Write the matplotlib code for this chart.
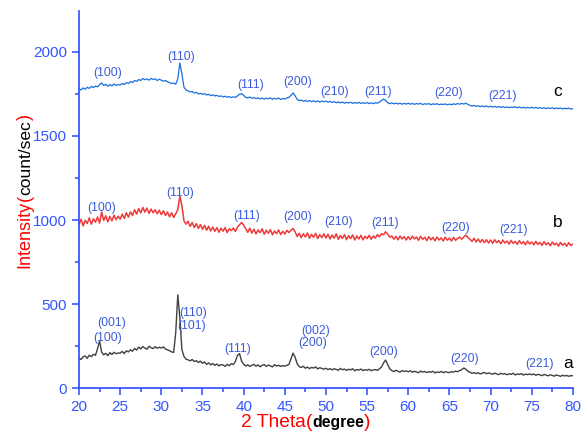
import numpy as np
import matplotlib
matplotlib.use("Agg")
import matplotlib.pyplot as plt

plt.rcParams['font.family'] = ['Liberation Sans', 'DejaVu Sans']

# 2 theta grid, 0.25 degree steps
two_theta = np.linspace(20, 80, 241)

# sample a (grey)
int_a = np.array(
    [178, 170, 186, 191, 177, 196, 187, 201, 195, 235, 280, 214, 198, 207, 193, 211, 200, 213, 204, 209] +
    [208, 218, 205, 222, 215, 228, 219, 236, 226, 244, 233, 247, 238, 231, 249, 240, 235, 246, 237, 243] +
    [238, 245, 232, 228, 222, 215, 212, 330, 555, 420, 230, 188, 172, 168, 162, 170, 158, 163, 152, 160] +
    [148, 155, 141, 150, 138, 146, 135, 143, 132, 140, 137, 129, 141, 133, 145, 140, 158, 195, 205, 160] +
    [142, 131, 139, 128, 136, 141, 130, 138, 127, 135, 140, 129, 137, 132, 126, 139, 131, 136, 128, 134] +
    [130, 136, 140, 175, 208, 185, 145, 128, 122, 130, 118, 125, 116, 123, 119, 126, 114, 121, 117, 112] +
    [118, 110, 116, 108, 115, 111, 106, 117, 109, 113, 105, 112, 108, 115, 103, 110, 107, 113, 104, 109] +
    [106, 112, 103, 108, 110, 105, 115, 125, 150, 167, 140, 115, 104, 98, 106, 100, 95, 104, 99, 102] +
    [97, 103, 94, 100, 96, 91, 101, 95, 99, 92, 98, 94, 100, 90, 96, 93, 99, 91, 97, 94] +
    [92, 98, 95, 101, 97, 104, 110, 119, 112, 100, 94, 88, 92, 86, 91, 84, 89, 93, 85, 90] +
    [87, 82, 89, 84, 80, 88, 83, 86, 79, 85, 82, 88, 78, 84, 81, 86, 77, 83, 80, 84] +
    [79, 84, 76, 82, 78, 74, 81, 77, 73, 79, 75, 71, 78, 74, 70, 76, 72, 75, 70, 74, 73])

# sample b (red)
int_b = np.array(
    [972, 1005, 965, 998, 979, 1013, 975, 1007, 987, 1018, 982, 1048, 997, 1025, 989, 1021, 995, 1029, 1002, 1023] +
    [1005, 1035, 1009, 1043, 1017, 1048, 1027, 1061, 1035, 1068, 1042, 1075, 1047, 1071, 1039, 1065, 1043, 1061, 1037, 1058] +
    [1032, 1055, 1027, 1048, 1019, 1043, 1015, 1038, 1060, 1143, 1085, 995, 975, 993, 962, 985, 955, 978, 949, 973] +
    [945, 968, 939, 963, 935, 958, 932, 955, 927, 951, 933, 955, 925, 948, 937, 953, 932, 958, 972, 985] +
    [970, 948, 927, 951, 922, 945, 917, 941, 925, 948, 915, 939, 921, 943, 912, 935, 919, 941, 913, 933] +
    [917, 938, 925, 940, 950, 930, 902, 921, 895, 918, 899, 923, 892, 915, 897, 921, 890, 913, 895, 918] +
    [893, 915, 887, 911, 892, 918, 885, 908, 890, 913, 883, 907, 889, 911, 881, 905, 887, 909, 882, 903] +
    [889, 909, 885, 905, 892, 913, 900, 918, 912, 930, 915, 898, 905, 885, 903, 882, 905, 887, 901, 881] +
    [901, 883, 905, 887, 899, 879, 903, 885, 897, 877, 901, 882, 896, 876, 899, 881, 894, 875, 898, 880] +
    [893, 875, 897, 879, 891, 898, 886, 900, 910, 895, 885, 873, 891, 869, 887, 867, 885, 865, 883, 863] +
    [881, 861, 883, 865, 878, 859, 881, 863, 875, 857, 879, 861, 873, 855, 877, 859, 871, 853, 875, 857] +
    [869, 852, 873, 855, 867, 849, 871, 853, 865, 847, 869, 852, 863, 845, 867, 850, 861, 844, 865, 848, 857])

# sample c (blue)
int_c = np.array(
    [1780, 1774, 1786, 1778, 1790, 1783, 1795, 1788, 1798, 1792, 1805, 1816, 1800, 1808, 1796, 1806, 1798, 1810, 1800, 1806] +
    [1804, 1812, 1806, 1818, 1812, 1824, 1818, 1830, 1825, 1836, 1830, 1842, 1835, 1840, 1832, 1843, 1836, 1840, 1830, 1838] +
    [1832, 1826, 1830, 1822, 1818, 1812, 1815, 1808, 1840, 1934, 1870, 1790, 1774, 1768, 1762, 1765, 1755, 1760, 1750, 1754] +
    [1748, 1752, 1744, 1748, 1740, 1745, 1738, 1742, 1735, 1739, 1732, 1737, 1730, 1735, 1728, 1733, 1730, 1738, 1748, 1752] +
    [1742, 1730, 1726, 1732, 1724, 1729, 1722, 1728, 1720, 1726, 1719, 1725, 1721, 1727, 1718, 1724, 1720, 1726, 1717, 1723] +
    [1720, 1726, 1730, 1742, 1756, 1740, 1718, 1710, 1714, 1706, 1712, 1705, 1711, 1704, 1710, 1703, 1709, 1702, 1708, 1704] +
    [1708, 1701, 1706, 1699, 1704, 1698, 1703, 1697, 1702, 1695, 1700, 1696, 1701, 1694, 1699, 1695, 1700, 1693, 1698, 1694] +
    [1699, 1693, 1697, 1692, 1698, 1695, 1702, 1710, 1720, 1712, 1698, 1692, 1697, 1691, 1696, 1690, 1695, 1689, 1694, 1690] +
    [1695, 1689, 1694, 1688, 1693, 1690, 1694, 1687, 1692, 1689, 1693, 1686, 1691, 1688, 1692, 1686, 1690, 1687, 1691, 1685] +
    [1690, 1686, 1691, 1688, 1693, 1689, 1694, 1690, 1695, 1688, 1682, 1678, 1682, 1676, 1680, 1675, 1679, 1674, 1678, 1673] +
    [1677, 1672, 1676, 1671, 1675, 1670, 1674, 1669, 1673, 1668, 1672, 1670, 1674, 1668, 1672, 1667, 1671, 1666, 1670, 1667] +
    [1671, 1666, 1670, 1665, 1669, 1664, 1668, 1663, 1667, 1664, 1668, 1662, 1666, 1663, 1667, 1661, 1665, 1662, 1666, 1660, 1663])

assert len(int_a) == len(int_b) == len(int_c) == len(two_theta)

# peak labels (text, 2theta, intensity)
labels_a = [("(001)", 24.0, 387), ("(100)", 23.5, 298), ("(110)", 33.9, 446), ("(101)", 33.7, 369),
            ("(111)", 39.3, 232), ("(002)", 48.7, 339), ("(200)", 48.4, 268), ("(200)", 57.0, 214),
            ("(220)", 66.9, 173), ("(221)", 75.9, 143)]
labels_b = [("(100)", 22.8, 1071), ("(110)", 32.3, 1161), ("(111)", 40.4, 1024), ("(200)", 46.6, 1018),
            ("(210)", 51.5, 988), ("(211)", 57.2, 982), ("(220)", 65.7, 952), ("(221)", 72.8, 940)]
labels_c = [("(100)", 23.5, 1875), ("(110)", 32.4, 1970), ("(111)", 40.8, 1806), ("(200)", 46.5, 1821),
            ("(210)", 51.1, 1762), ("(211)", 56.3, 1762), ("(220)", 64.9, 1756), ("(221)", 71.5, 1738)]
sample_names = [("a", 79.4, 149), ("b", 78.2, 988), ("c", 78.1, 1762)]

axis_blue = "#2b4cff"
tick_blue = "#3355ff"
label_blue = "#3b5bdb"

fig = plt.figure(figsize=(5.81, 4.38), dpi=100)
ax = fig.add_axes([0.136, 0.114, 0.850, 0.861])

ax.plot(two_theta, int_a, color="#404040", lw=1.0)
ax.plot(two_theta, int_b, color="#ee3a3a", lw=1.1)
ax.plot(two_theta, int_c, color="#1a6fdf", lw=0.9)

for lab in (labels_a, labels_b, labels_c):
    for txt, xx, yy in lab:
        ax.text(xx, yy, txt, color=label_blue, fontsize=8.8, ha="center", va="center")
for txt, xx, yy in sample_names:
    ax.text(xx, yy, txt, color="black", fontsize=12.5, ha="center", va="center")

ax.set_xlim(20, 80)
ax.set_ylim(0, 2244)
ax.set_xticks(np.arange(20, 81, 5))
ax.set_xticks(np.arange(22.5, 80, 5), minor=True)
ax.set_yticks([0, 500, 1000, 1500, 2000])
ax.set_yticks([250, 750, 1250, 1750], minor=True)
for s in ["top", "right"]:
    ax.spines[s].set_visible(False)
for s in ["left", "bottom"]:
    ax.spines[s].set_color(axis_blue)
    ax.spines[s].set_linewidth(1.2)
ax.tick_params(which="both", direction="out", color=axis_blue, width=1.1, labelcolor=tick_blue, labelsize=11)
ax.tick_params(which="major", length=5)
ax.tick_params(which="minor", length=3)

# multi coloured axis labels
fig.canvas.draw()
r = fig.canvas.get_renderer()
inv = fig.transFigure.inverted()

xparts = [("2 Theta", "red", 13.8, "normal"), ("(", "red", 13.8, "normal"),
          ("degree", "black", 11.4, "bold"), (")", "red", 13.8, "normal")]
pos = 0.0
items = []
for txt, col, fs, fw in xparts:
    t = fig.text(pos, 0.025, txt, color=col, fontsize=fs, fontweight=fw, ha="left", va="baseline")
    bb = t.get_window_extent(r)
    items.append(t)
    pos = inv.transform((bb.x1, 0))[0]
x_center = 306 / 581
shift = x_center - pos / 2
for t in items:
    t.set_x(t.get_position()[0] + shift)

yparts = [("Intensity", "red", 13), ("(", "red", 13), ("count/sec", "black", 12.5), (")", "red", 13)]
pos = 0.0
items = []
for txt, col, fs in yparts:
    t = fig.text(0.058, pos, txt, color=col, fontsize=fs, rotation=90, ha="right", va="bottom")
    bb = t.get_window_extent(r)
    items.append(t)
    pos = inv.transform((0, bb.y1))[1]
y_center = (438 - 191) / 438
shift = y_center - pos / 2
for t in items:
    t.set_y(t.get_position()[1] + shift)

fig.savefig("out.png", dpi=100)
